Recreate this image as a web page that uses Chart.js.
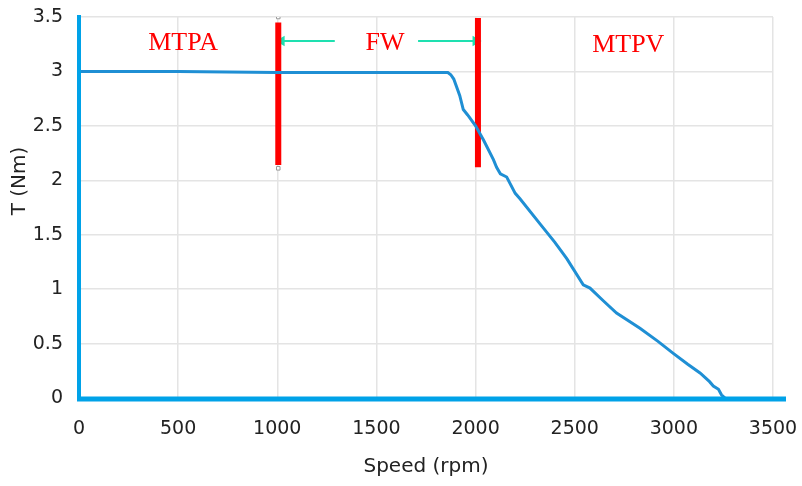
<!DOCTYPE html>
<html>
<head>
<meta charset="utf-8">
<script src="https://cdn.jsdelivr.net/npm/chart.js@4/dist/chart.umd.min.js"></script>
<style>
  html, body { margin: 0; padding: 0; background: #fff; }
  #wrap { width: 802px; height: 486px; }
</style>
</head>
<body>
<div id="wrap"><canvas id="torqueChart"></canvas></div>
<script>
// torque vs speed curve
const speed = [0, 500, 1000, 1500, 1860, 1875, 1890, 1920, 1938, 1960, 2000, 2040, 2090, 2106, 2125, 2157,
    2200, 2224, 2325, 2400, 2460, 2543, 2577, 2640, 2711, 2829, 2920, 2997, 3070, 3132, 3180, 3199, 3225, 3240, 3258];
const torque = [3.0, 3.0, 2.99, 2.99, 2.99, 2.97, 2.93, 2.78, 2.65, 2.6, 2.5, 2.37, 2.19, 2.12, 2.06, 2.03,
    1.88, 1.83, 1.6, 1.43, 1.28, 1.04, 1.01, 0.9, 0.78, 0.64, 0.52, 0.41, 0.31, 0.23, 0.15, 0.11, 0.08, 0.03, 0.0];

const xTicks = ["0", "500", "1000", "1500", "2000", "2500", "3000", "3500"];
const yTicks = ["0", "0.5", "1", "1.5", "2", "2.5", "3", "3.5"];

// region markers
const markerSpeed = [1005, 2012];
const markerLow = [2.14, 2.12];
const markerHigh = [3.45, 3.49];
const arrowY = 3.28;
const arrowLeft = [1290, 1022];
const arrowRight = [1710, 2000];
const regionNames = ["MTPA", "FW", "MTPV"];
const regionX = [525, 1543, 2770];
const regionY = [3.26, 3.26, 3.24];

const axisBlue = "#00a2e8";

function curvePoints() {
    return speed.map((s, i) => ({ x: s, y: torque[i] }));
}

function markerLine(i) {
    return {
        data: [{ x: markerSpeed[i], y: markerLow[i] }, { x: markerSpeed[i], y: markerHigh[i] }],
        borderColor: "#ff0000",
        borderWidth: 6,
        borderCapStyle: "butt",
        pointRadius: 0
    };
}

function arrow(pts) {
    return {
        data: [{ x: pts[0], y: arrowY }, { x: pts[1], y: arrowY }],
        borderColor: "#1ee0b0",
        backgroundColor: "#1ee0b0",
        borderWidth: 2,
        pointStyle: "triangle",
        pointRadius: [0, 6],
        pointRotation: pts[1] < pts[0] ? -90 : 90,
        pointBorderWidth: 0
    };
}

const overlay = {
    id: "overlay",
    afterDraw(chart) {
        const { ctx, scales: { x, y }, chartArea } = chart;
        ctx.save();
        // blue axis lines
        ctx.strokeStyle = axisBlue;
        ctx.lineWidth = 4;
        ctx.beginPath();
        ctx.moveTo(x.getPixelForValue(0), chartArea.top - 2);
        ctx.lineTo(x.getPixelForValue(0), y.getPixelForValue(0));
        ctx.stroke();
        ctx.lineWidth = 5;
        ctx.beginPath();
        ctx.moveTo(x.getPixelForValue(0) - 2, y.getPixelForValue(0) + 1);
        ctx.lineTo(chartArea.right + 13, y.getPixelForValue(0) + 1);
        ctx.stroke();

        // region names
        ctx.fillStyle = "#ff0000";
        ctx.font = "26px 'Liberation Serif'";
        ctx.textAlign = "center";
        ctx.textBaseline = "middle";
        regionNames.forEach((t, i) => {
            ctx.fillText(t, x.getPixelForValue(regionX[i]), y.getPixelForValue(regionY[i]));
        });

        // y axis title
        ctx.fillStyle = "#222";
        ctx.font = "20px 'DejaVu Sans'";
        ctx.translate(20, 181);
        ctx.rotate(-Math.PI / 2);
        ctx.fillText("T (Nm)", 0, 0);
        ctx.restore();
    }
};

new Chart(document.getElementById("torqueChart"), {
    type: "line",
    data: {
        datasets: [
            {
                data: curvePoints(),
                borderColor: "#1f8fd4",
                borderWidth: 3,
                pointRadius: 0,
                tension: 0
            },
            markerLine(0),
            markerLine(1),
            {
                // selection handles on the first marker
                data: [{ x: markerSpeed[0], y: 3.5 }, { x: markerSpeed[0], y: 2.11 }],
                showLine: false,
                pointStyle: "rect",
                pointRadius: 2.5,
                pointBackgroundColor: "#fff",
                pointBorderColor: "#999",
                pointBorderWidth: 1
            },
            arrow(arrowLeft),
            arrow(arrowRight)
        ]
    },
    options: {
        responsive: true,
        maintainAspectRatio: false,
        animation: false,
        layout: { padding: { left: 0, right: 29, top: 17, bottom: 0 } },
        plugins: {
            legend: { display: false },
            tooltip: { enabled: false }
        },
        scales: {
            x: {
                type: "linear",
                min: 0,
                max: 3500,
                afterFit(s) {
                    s.height = 88;
                    s.paddingLeft = 0;
                    s.paddingRight = 0;
                },
                border: { display: false },
                grid: { color: "#e4e4e4", lineWidth: 1.5, drawTicks: false },
                ticks: {
                    stepSize: 500,
                    padding: 20,
                    color: "#222",
                    font: { family: "DejaVu Sans", size: 19 },
                    maxRotation: 0,
                    callback: (v) => xTicks[v / 500]
                },
                title: {
                    display: true,
                    text: "Speed (rpm)",
                    color: "#222",
                    font: { family: "DejaVu Sans", size: 20 },
                    padding: { top: 0, bottom: 7 }
                }
            },
            y: {
                min: 0,
                max: 3.5,
                afterFit(s) {
                    s.width = 79;
                    s.paddingTop = 0;
                    s.paddingBottom = 0;
                },
                border: { display: false },
                grid: { color: "#e4e4e4", lineWidth: 1.5, drawTicks: false },
                ticks: {
                    stepSize: 0.5,
                    padding: 16,
                    color: "#222",
                    font: { family: "DejaVu Sans", size: 19 },
                    callback: (v) => yTicks[Math.round(v / 0.5)]
                }
            }
        }
    },
    plugins: [overlay]
});
</script>
</body>
</html>
